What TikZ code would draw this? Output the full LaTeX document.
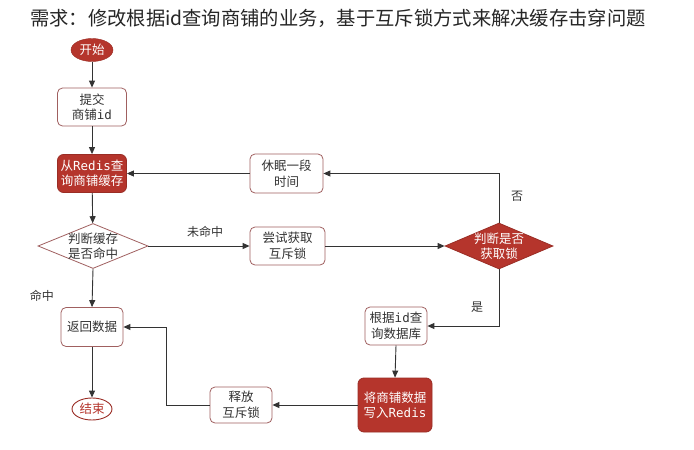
\documentclass[tikz,border=0pt]{standalone}
\usepackage{fontspec}
\setmainfont{Noto Sans CJK SC}
\newfontfamily\monof{DejaVu Sans Mono}
\usetikzlibrary{shapes.geometric,arrows.meta}
\definecolor{rfill}{HTML}{B5352C}
\definecolor{rborder}{HTML}{A06060}
\definecolor{txt}{HTML}{333333}
\tikzset{
  base/.style={align=center, inner sep=1pt, font=\fontsize{12.5}{15.5}\selectfont},
  wbox/.style={base, draw=rborder, fill=white, rounded corners=5pt, line width=0.8pt, text=txt},
  rbox/.style={base, draw=rfill!85!black, fill=rfill, rounded corners=6pt, line width=0.8pt, text=white},
  wdia/.style={draw=rborder, fill=white, diamond, line width=0.8pt, inner sep=0pt, aspect=2.5},
  rdia/.style={draw=rfill!85!black, fill=rfill, diamond, line width=0.8pt, inner sep=0pt, aspect=2.4},
  lab/.style={font=\fontsize{12}{14}\selectfont, text=txt, inner sep=0pt},
  conn/.style={draw=txt, line width=0.9pt, -{Triangle[length=7pt,width=6pt]}}
}
\begin{document}
\begin{tikzpicture}[x=1pt,y=-1pt]
\useasboundingbox[fill=white] (0,0) rectangle (694,450);
\node[font=\fontsize{19.3}{21}\selectfont, text=black!85, anchor=west, inner sep=0pt] (title) at (30,18) {需求：修改根据id查询商铺的业务，基于互斥锁方式来解决缓存击穿问题};

\node[ellipse, fill=rfill, draw=rfill!85!black, text=white, base, minimum width=42pt, minimum height=23pt, inner sep=0pt] (start) at (92,50) {开始};
\node[wbox, minimum width=69pt, minimum height=38pt] (submit) at (92,107) {提交\\商铺{\monof id}};
\node[rbox, minimum width=69pt, minimum height=38pt] (redis) at (92,173.5) {从{\monof Redis}查\\询商铺缓存};
\node[wdia, minimum width=110pt, minimum height=45pt] (d1) at (93,246) {};
\node[base, text=txt] (d1t) at (d1) {判断缓存\\是否命中};
\node[wbox, minimum width=75pt, minimum height=38pt] (try) at (287.5,246) {尝试获取\\互斥锁};
\node[rdia, minimum width=108pt, minimum height=46pt] (d2) at (499,246) {};
\node[base, text=white] (d2t) at (d2) {判断是否\\获取锁};
\node[wbox, minimum width=73pt, minimum height=39pt] (sleep) at (286.5,173.5) {休眠一段\\时间};
\node[wbox, minimum width=62pt, minimum height=39pt] (ret) at (92,327) {返回数据};
\node[ellipse, fill=white, draw=rfill!85!black, line width=0.9pt, text=rfill, base, minimum width=40pt, minimum height=22pt, inner sep=0pt] (end) at (92,409) {结束};
\node[wbox, minimum width=62pt, minimum height=38pt] (db) at (396,326) {根据{\monof id}查\\询数据库};
\node[rbox, minimum width=74pt, minimum height=54pt] (write) at (395,405) {将商铺数据\\写入{\monof Redis}};
\node[wbox, minimum width=62pt, minimum height=36pt] (rel) at (241,405) {释放\\互斥锁};

\node[lab] (l1) at (205,232) {未命中};
\node[lab] (l2) at (42,296) {命中};
\node[lab] (l3) at (517,196) {否};
\node[lab] (l4) at (477,307) {是};

\draw[conn] (start) -- (submit);
\draw[conn] (submit) -- (redis);
\draw[conn] (redis) -- (d1);
\draw[conn] (d1.east) -- (try.west);
\draw[conn] (try.east) -- (d2.west);
\draw[conn] (d2.north) |- (sleep.east);
\draw[conn] (sleep.west) -- (redis.east);
\draw[conn] (d1.south) -- (ret.north);
\draw[conn] (d2.south) |- (db.east);
\draw[conn] (db.south) -- (write.north);
\draw[conn] (write.west) -- (rel.east);
\draw[conn] (rel.west) -- ++(-43,0) |- (ret.east);
\draw[conn] (ret) -- (end);
\end{tikzpicture}
\end{document}
